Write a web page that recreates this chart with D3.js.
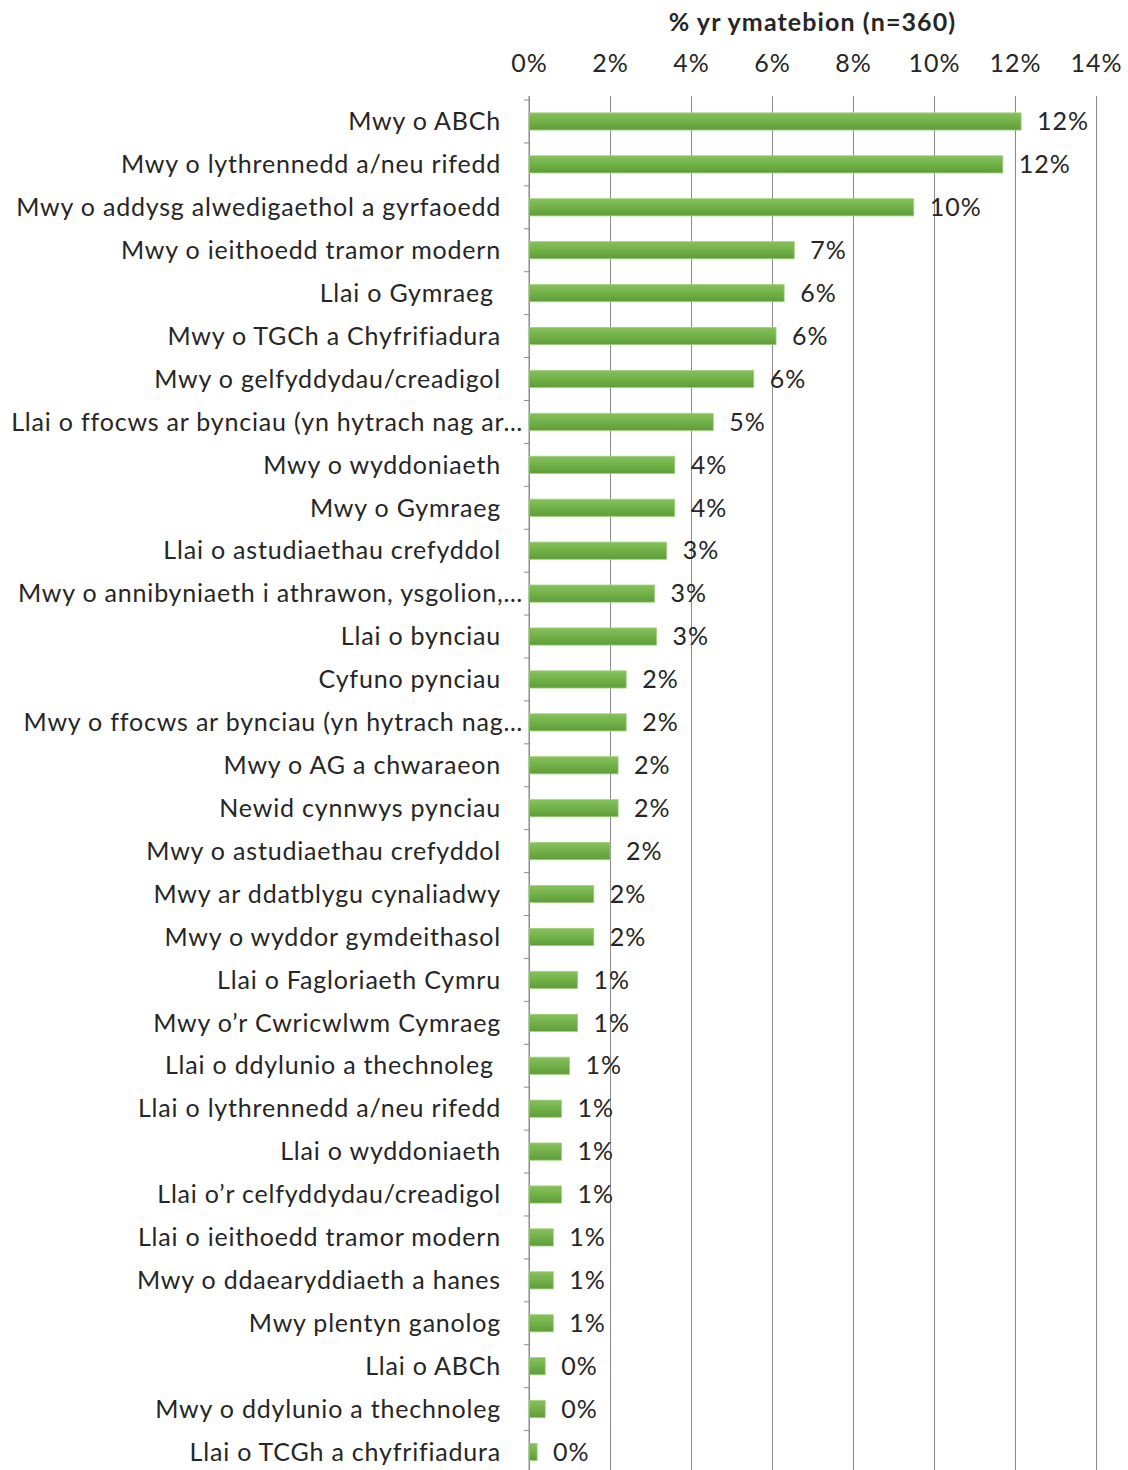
<!DOCTYPE html>
<html>
<head>
<meta charset="utf-8">
<title>% yr ymatebion</title>
<script src="https://d3js.org/d3.v7.min.js"></script>
<style>
  body { margin: 0; background: #fff; }
  svg text { font-family: Lato, "Open Sans", sans-serif; fill: #262626; }
  .gridline line { stroke: #8c8c8c; stroke-width: 1px; }
  .gridline path { display: none; }
</style>
</head>
<body>
<div id="chart"></div>
<script>
// categories, top to bottom
var categories = [
  "Mwy o ABCh",
  "Mwy o lythrennedd a/neu rifedd",
  "Mwy o addysg alwedigaethol a gyrfaoedd",
  "Mwy o ieithoedd tramor modern",
  "Llai o Gymraeg ",
  "Mwy o TGCh a Chyfrifiadura",
  "Mwy o gelfyddydau/creadigol",
  "Llai o ffocws ar bynciau (yn hytrach nag ar…",
  "Mwy o wyddoniaeth",
  "Mwy o Gymraeg",
  "Llai o astudiaethau crefyddol",
  "Mwy o annibyniaeth i athrawon, ysgolion,…",
  "Llai o bynciau",
  "Cyfuno pynciau",
  "Mwy o ffocws ar bynciau (yn hytrach nag…",
  "Mwy o AG a chwaraeon",
  "Newid cynnwys pynciau",
  "Mwy o astudiaethau crefyddol",
  "Mwy ar ddatblygu cynaliadwy",
  "Mwy o wyddor gymdeithasol",
  "Llai o Fagloriaeth Cymru",
  "Mwy o’r Cwricwlwm Cymraeg",
  "Llai o ddylunio a thechnoleg ",
  "Llai o lythrennedd a/neu rifedd",
  "Llai o wyddoniaeth",
  "Llai o’r celfyddydau/creadigol",
  "Llai o ieithoedd tramor modern",
  "Mwy o ddaearyddiaeth a hanes",
  "Mwy plentyn ganolog",
  "Llai o ABCh",
  "Mwy o ddylunio a thechnoleg",
  "Llai o TCGh a chyfrifiadura"
];

// % of respondents
var values = [
  12.15, 11.7, 9.5, 6.55, 6.3, 6.1, 5.55, 4.55,
  3.6, 3.6, 3.4, 3.1, 3.15, 2.4, 2.4, 2.2,
  2.2, 2.0, 1.6, 1.6, 1.2, 1.2, 1.0, 0.8,
  0.8, 0.8, 0.6, 0.6, 0.6, 0.4, 0.4, 0.2
];

var xTicks = [0, 2, 4, 6, 8, 10, 12, 14];
var axisTitle = "% yr ymatebion (n=360)";

var data = categories.map(function(c, i) { return { name: c, value: values[i] }; });

var width = 1128, height = 1470;
var margin = { top: 100, left: 529, right: 32 };
var plotBottom = 1473.5;

var svg = d3.select("#chart").append("svg")
    .attr("width", width)
    .attr("height", height);

var defs = svg.append("defs");
var grad = defs.append("linearGradient")
    .attr("id", "barGrad")
    .attr("x1", 0).attr("y1", 0).attr("x2", 0).attr("y2", 1);
grad.append("stop").attr("offset", "0%").attr("stop-color", "#86c25c");
grad.append("stop").attr("offset", "100%").attr("stop-color", "#5e9e37");

var x = d3.scaleLinear()
    .domain([0, 14])
    .range([margin.left, width - margin.right]);

var y = d3.scaleBand()
    .domain(categories)
    .range([margin.top, plotBottom])
    .paddingInner(0.6)
    .paddingOuter(0.3);

// gridlines + top tick labels
var gx = svg.append("g")
    .attr("class", "gridline")
    .attr("transform", "translate(0," + margin.top + ")")
    .call(d3.axisTop(x)
        .tickValues(xTicks)
        .tickFormat(function(d) { return d + "%"; })
        .tickSizeInner(-(height - margin.top))
        .tickSizeOuter(0)
        .tickPadding(28));
gx.selectAll("line").attr("y1", -4);
gx.selectAll("text")
    .style("font-size", "25px")
    .style("letter-spacing", "1px")
    .style("fill", "#262626");

// title
svg.append("text")
    .attr("x", (x(0) + x(14)) / 2)
    .attr("y", 31)
    .attr("text-anchor", "middle")
    .style("font-size", "25px")
    .style("letter-spacing", "1.1px")
    .style("font-weight", "bold")
    .text(axisTitle);

// category axis
var gy = svg.append("g")
    .attr("transform", "translate(" + margin.left + ",0)");
gy.append("line")
    .attr("x1", 0).attr("x2", 0)
    .attr("y1", margin.top - 4).attr("y2", height)
    .attr("stroke", "#8c8c8c");
gy.selectAll("line.tick")
    .data(d3.range(categories.length + 1))
    .enter().append("line")
    .attr("class", "tick")
    .attr("x1", -5).attr("x2", 0)
    .attr("y1", function(i) { return margin.top + i * y.step(); })
    .attr("y2", function(i) { return margin.top + i * y.step(); })
    .attr("stroke", "#8c8c8c");

svg.append("g")
  .selectAll("text")
  .data(data)
  .enter().append("text")
    .attr("x", function(d) { return d.name.slice(-1) === "…" ? margin.left - 6 : margin.left - 28; })
    .attr("y", function(d) { return y(d.name) + y.bandwidth() / 2; })
    .attr("dy", "0.35em")
    .attr("text-anchor", "end")
    .style("font-size", "25px")
    .style("letter-spacing", "0.8px")
    .style("white-space", "pre")
    .text(function(d) { return d.name; });

// bars
svg.append("g")
  .selectAll("rect")
  .data(data)
  .enter().append("rect")
    .attr("x", x(0))
    .attr("y", function(d) { return y(d.name); })
    .attr("width", function(d) { return x(d.value) - x(0); })
    .attr("height", y.bandwidth())
    .attr("fill", "url(#barGrad)")
    .attr("stroke", "#9fd07c")
    .attr("stroke-width", 0.8);

// value labels
svg.append("g")
  .selectAll("text")
  .data(data)
  .enter().append("text")
    .attr("x", function(d) { return x(d.value) + 16; })
    .attr("y", function(d) { return y(d.name) + y.bandwidth() / 2; })
    .attr("dy", "0.35em")
    .style("font-size", "25px")
    .style("letter-spacing", "1px")
    .text(function(d) { return Math.round(d.value) + "%"; });
</script>
</body>
</html>
